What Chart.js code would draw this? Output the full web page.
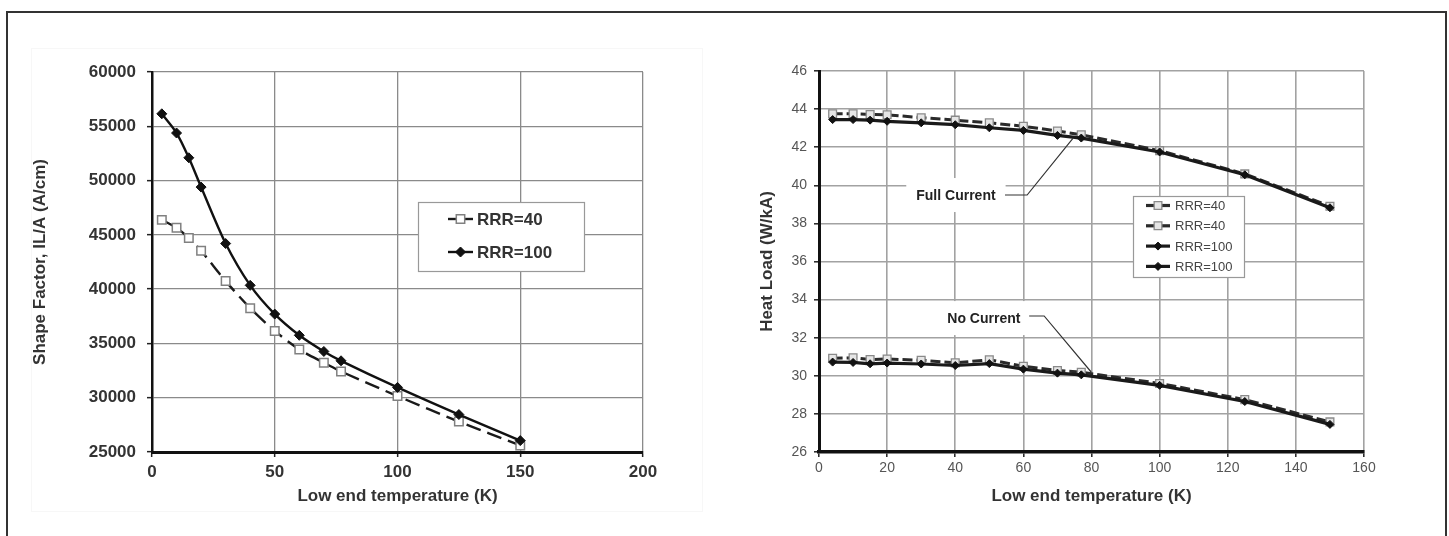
<!DOCTYPE html>
<html>
<head>
<meta charset="utf-8">
<script src="https://cdn.jsdelivr.net/npm/chart.js@4.4.1/dist/chart.umd.min.js"></script>
<style>
  body { margin: 0; background: #fff; }
  #page { position: relative; width: 1449px; height: 536px; overflow: hidden; background: #fff; }
  #frame { position: absolute; left: 6px; top: 11px; width: 1437px; height: 600px; border: 2px solid #333; }
  .faint { position: absolute; border: 1px solid #f7f7f7; }
  canvas { position: absolute; top: 0; }
</style>
</head>
<body>
<div id="page">
  <div id="frame"></div>
  <div class="faint" style="left:31px; top:48px; width:670px; height:462px;"></div>
  <canvas id="shapeChart" width="740" height="536" style="left:0"></canvas>
  <canvas id="heatChart" width="709" height="536" style="left:740px"></canvas>
</div>
<script>
const FONT = "'Liberation Sans', Arial, sans-serif";

// LEFT GRAPH - shape factor
const tempsLeft = [4, 10, 15, 20, 30, 40, 50, 60, 70, 77, 100, 125, 150];
const shapeRRR40 = [46380, 45650, 44700, 43530, 40740, 38250, 36150, 34450, 33220, 32420, 30150, 27800, 25600];
const shapeRRR100 = [56150, 54380, 52100, 49400, 44200, 40350, 37700, 35750, 34260, 33400, 30950, 28450, 26050];
const shapeTicksX = [0, 50, 100, 150, 200];
const shapeTicksY = [25000, 30000, 35000, 40000, 45000, 50000, 55000, 60000];

// RIGHT GRAPH - heat load
const tempsRight = [4, 10, 15, 20, 30, 40, 50, 60, 70, 77, 100, 125, 150];
const fullRRR40 = [43.75, 43.75, 43.72, 43.7, 43.55, 43.42, 43.28, 43.1, 42.85, 42.65, 41.82, 40.6, 38.9];
const noRRR40 = [30.92, 30.95, 30.85, 30.88, 30.82, 30.68, 30.84, 30.5, 30.28, 30.19, 29.6, 28.75, 27.58];
const fullRRR100 = [43.45, 43.45, 43.42, 43.36, 43.28, 43.18, 43.02, 42.88, 42.62, 42.48, 41.75, 40.55, 38.82];
const noRRR100 = [30.72, 30.7, 30.63, 30.67, 30.62, 30.54, 30.64, 30.35, 30.14, 30.05, 29.5, 28.65, 27.45];
const heatTicksX = [0, 20, 40, 60, 80, 100, 120, 140, 160];
const heatTicksY = [26, 28, 30, 32, 34, 36, 38, 40, 42, 44, 46];

function pts(xs, ys) {
  return xs.map((x, i) => ({ x: x, y: ys[i] }));
}

function setTicks(list) {
  return function (scale) {
    scale.ticks = list.map((v) => ({ value: v }));
  };
}

// plain numbers, no thousands separator
function plain(value) {
  return String(value);
}

function drawMark(ctx, ds, x, y) {
  const r = ds.pointRadius;
  ctx.save();
  ctx.setLineDash([]);
  ctx.lineWidth = ds.pointBorderWidth;
  ctx.strokeStyle = ds.pointBorderColor;
  ctx.fillStyle = ds.pointBackgroundColor;
  ctx.beginPath();
  if (ds.pointStyle == "rectRot") {
    ctx.moveTo(x, y - r);
    ctx.lineTo(x + r, y);
    ctx.lineTo(x, y + r);
    ctx.lineTo(x - r, y);
    ctx.closePath();
  } else {
    ctx.rect(x - r * 0.7, y - r * 0.7, r * 1.4, r * 1.4);
  }
  ctx.fill();
  ctx.stroke();
  ctx.restore();
}

// legend drawn inside the plot, like the original
function boxLegend(box) {
  return {
    id: "boxLegend",
    afterDatasetsDraw(chart) {
      const ctx = chart.ctx;
      ctx.save();
      ctx.fillStyle = "#fff";
      ctx.fillRect(box.x, box.y, box.w, box.h);
      ctx.strokeStyle = "#999";
      ctx.lineWidth = 1.2;
      ctx.strokeRect(box.x + 0.5, box.y + 0.5, box.w, box.h);
      chart.data.datasets.forEach((ds, i) => {
        const y = box.y + box.first + i * box.step;
        const x0 = box.x + box.lineX;
        ctx.strokeStyle = ds.borderColor;
        ctx.lineWidth = box.lineWidth;
        ctx.setLineDash([]);
        ctx.beginPath();
        ctx.moveTo(x0, y);
        ctx.lineTo(x0 + box.lineLen, y);
        ctx.stroke();
        drawMark(ctx, ds, x0 + box.lineLen / 2, y);
        ctx.fillStyle = box.color;
        ctx.font = box.font;
        ctx.textAlign = "left";
        ctx.textBaseline = "middle";
        ctx.fillText(ds.label, box.x + box.textX, y + 1);
      });
      ctx.restore();
    },
  };
}

// callouts on the right graph
const callouts = [
  { text: "Full Current", at: [40.2, 39.49], path: [[54.6, 39.49], [61.1, 39.49], [74.6, 42.48]] },
  { text: "No Current", at: [48.4, 33.03], path: [[61.7, 33.14], [66.1, 33.14], [79.9, 30.2]] },
];

const calloutPlugin = {
  id: "callouts",
  beforeDatasetsDraw(chart) {
    const ctx = chart.ctx;
    const sx = chart.scales.x;
    const sy = chart.scales.y;
    ctx.save();
    ctx.font = "bold 14px " + FONT;
    callouts.forEach((c) => {
      const cx = sx.getPixelForValue(c.at[0]);
      const cy = sy.getPixelForValue(c.at[1]);
      const w = ctx.measureText(c.text).width;
      ctx.fillStyle = "#fff";
      ctx.fillRect(cx - w / 2 - 10, cy - 17, w + 20, 34);
      ctx.fillStyle = "#222";
      ctx.textAlign = "center";
      ctx.textBaseline = "middle";
      ctx.fillText(c.text, cx, cy + 1);
    });
    ctx.restore();
  },
  afterDatasetsDraw(chart) {
    const ctx = chart.ctx;
    const sx = chart.scales.x;
    const sy = chart.scales.y;
    ctx.save();
    ctx.strokeStyle = "#333";
    ctx.lineWidth = 1.2;
    callouts.forEach((c) => {
      ctx.beginPath();
      c.path.forEach((p, i) => {
        const px = sx.getPixelForValue(p[0]);
        const py = sy.getPixelForValue(p[1]);
        if (i == 0) ctx.moveTo(px, py);
        else ctx.lineTo(px, py);
      });
      ctx.stroke();
    });
    ctx.restore();
  },
};

let shapeCtx = document.getElementById("shapeChart").getContext("2d");
let shapeChart = new Chart(shapeCtx, {
  type: "line",
  data: {
    datasets: [
      {
        label: "RRR=40",
        data: pts(tempsLeft, shapeRRR40),
        borderColor: "#1a1a1a",
        borderWidth: 2.4,
        borderDash: [15, 7],
        tension: 0.3,
        pointStyle: "rect",
        pointRadius: 6,
        pointBorderWidth: 1.5,
        pointBorderColor: "#808080",
        pointBackgroundColor: "#fff",
        order: 1,
      },
      {
        label: "RRR=100",
        data: pts(tempsLeft, shapeRRR100),
        borderColor: "#111",
        borderWidth: 2.4,
        tension: 0.3,
        pointStyle: "rectRot",
        pointRadius: 5,
        pointBorderWidth: 1,
        pointBorderColor: "#111",
        pointBackgroundColor: "#111",
        order: 0,
      },
    ],
  },
  options: {
    responsive: false,
    animation: false,
    devicePixelRatio: 1,
    layout: { padding: { left: 0, top: 72, right: 97, bottom: 0 } },
    plugins: { legend: { display: false }, tooltip: { enabled: false } },
    scales: {
      x: {
        type: "linear",
        min: 0,
        max: 200,
        afterBuildTicks: setTicks(shapeTicksX),
        afterFit: (s) => { s.height = 84; },
        grid: { color: "#8a8a8a", lineWidth: 1.3, tickLength: 5, tickColor: "#222", tickWidth: 1.5 },
        border: { color: "#111", width: 3 },
        ticks: { color: "#333", padding: 5, callback: plain, font: { family: FONT, size: 17, weight: "bold" } },
        title: {
          display: true,
          text: "Low end temperature (K)",
          color: "#333",
          font: { family: FONT, size: 17, weight: "bold" },
          padding: { top: 0, bottom: 29 },
        },
      },
      y: {
        min: 25000,
        max: 60000,
        afterBuildTicks: setTicks(shapeTicksY),
        afterFit: (s) => { s.width = 152; },
        grid: { color: "#8a8a8a", lineWidth: 1.3, tickLength: 5, tickColor: "#222", tickWidth: 1.5 },
        border: { color: "#111", width: 2.5 },
        ticks: { color: "#333", padding: 11, callback: plain, font: { family: FONT, size: 17, weight: "bold" } },
        title: {
          display: true,
          text: "Shape Factor, IL/A (A/cm)",
          color: "#333",
          font: { family: FONT, size: 17, weight: "bold" },
          padding: { top: 30, bottom: 0 },
        },
      },
    },
  },
  plugins: [
    boxLegend({ x: 418, y: 202, w: 166, h: 69, first: 17, step: 33, lineX: 30, lineLen: 25, textX: 59,
      lineWidth: 2.4, font: "bold 17px " + FONT, color: "#333" }),
  ],
});

let heatCtx = document.getElementById("heatChart").getContext("2d");
let heatChart = new Chart(heatCtx, {
  type: "line",
  data: {
    datasets: [
      {
        label: "RRR=40",
        data: pts(tempsRight, fullRRR40),
        borderColor: "#2a2a2a",
        borderWidth: 3,
        borderDash: [10, 4],
        tension: 0,
        pointStyle: "rect",
        pointRadius: 5.5,
        pointBorderWidth: 1.3,
        pointBorderColor: "#8a8a8a",
        pointBackgroundColor: "#e6e6e6",
        order: 1,
      },
      {
        label: "RRR=40",
        data: pts(tempsRight, noRRR40),
        borderColor: "#2a2a2a",
        borderWidth: 3,
        borderDash: [10, 4],
        tension: 0,
        pointStyle: "rect",
        pointRadius: 5.5,
        pointBorderWidth: 1.3,
        pointBorderColor: "#8a8a8a",
        pointBackgroundColor: "#e6e6e6",
        order: 1,
      },
      {
        label: "RRR=100",
        data: pts(tempsRight, fullRRR100),
        borderColor: "#1a1a1a",
        borderWidth: 3.2,
        tension: 0,
        pointStyle: "rectRot",
        pointRadius: 4,
        pointBorderWidth: 1,
        pointBorderColor: "#111",
        pointBackgroundColor: "#111",
        order: 0,
      },
      {
        label: "RRR=100",
        data: pts(tempsRight, noRRR100),
        borderColor: "#1a1a1a",
        borderWidth: 3.2,
        tension: 0,
        pointStyle: "rectRot",
        pointRadius: 4,
        pointBorderWidth: 1,
        pointBorderColor: "#111",
        pointBackgroundColor: "#111",
        order: 0,
      },
    ],
  },
  options: {
    responsive: false,
    animation: false,
    devicePixelRatio: 1,
    layout: { padding: { left: 0, top: 71, right: 85, bottom: 0 } },
    plugins: { legend: { display: false }, tooltip: { enabled: false } },
    scales: {
      x: {
        type: "linear",
        min: 0,
        max: 160,
        afterBuildTicks: setTicks(heatTicksX),
        afterFit: (s) => { s.height = 84; },
        grid: { color: "#a2a2a2", lineWidth: 1.6, tickLength: 5, tickColor: "#222", tickWidth: 1.5 },
        border: { color: "#111", width: 3.5 },
        ticks: { color: "#555", padding: 3, callback: plain, font: { family: FONT, size: 14 } },
        title: {
          display: true,
          text: "Low end temperature (K)",
          color: "#333",
          font: { family: FONT, size: 17, weight: "bold" },
          padding: { top: 0, bottom: 29 },
        },
      },
      y: {
        min: 26,
        max: 46,
        afterBuildTicks: setTicks(heatTicksY),
        afterFit: (s) => { s.width = 79; },
        grid: { color: "#a2a2a2", lineWidth: 1.6, tickLength: 5, tickColor: "#222", tickWidth: 1.5 },
        border: { color: "#111", width: 3 },
        ticks: { color: "#555", padding: 7, callback: plain, font: { family: FONT, size: 14 } },
        title: {
          display: true,
          text: "Heat Load (W/kA)",
          color: "#333",
          font: { family: FONT, size: 17, weight: "bold" },
          padding: { top: 17, bottom: 0 },
        },
      },
    },
  },
  plugins: [
    calloutPlugin,
    boxLegend({ x: 393, y: 196, w: 111, h: 81, first: 9.5, step: 20.3, lineX: 13, lineLen: 24, textX: 42,
      lineWidth: 3.2, font: "13px " + FONT, color: "#444" }),
  ],
});
</script>
</body>
</html>
